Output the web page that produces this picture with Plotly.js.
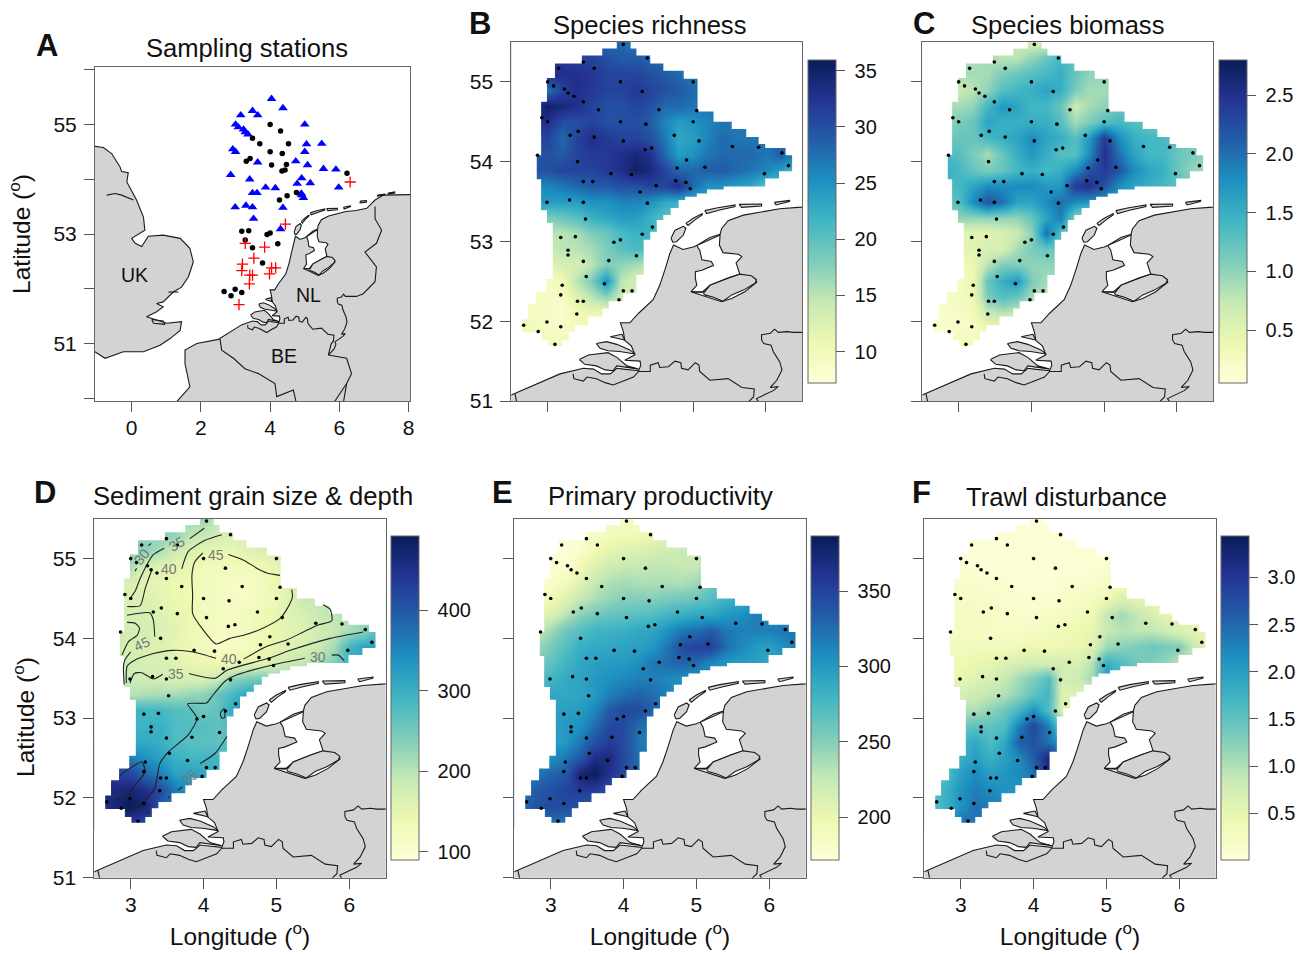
<!DOCTYPE html>
<html><head><meta charset="utf-8">
<script src="https://cdn.plot.ly/plotly-3.0.1.min.js"></script>
<style>html,body{margin:0;padding:0;background:#fff}#chart{width:1309px;height:954px}</style>
</head><body><div id="chart"></div>
<script>
const _ = null;
const lonCols = [2.6,2.8,3.0,3.2,3.4,3.6,3.8,4.0,4.2,4.4,4.6,4.8,5.0,5.2,5.4,5.6,5.8,6.0,6.2,6.4];
const latRows = [55.5,55.3,55.1,54.9,54.7,54.5,54.3,54.1,53.9,53.7,53.5,53.3,53.1,52.9,52.7,52.5,52.3,52.1,51.9,51.7];

const richness = [
[_,_,_,_,_,_,28,28,27],
[_,_,_,_,31,31,30,29,29,28],
[_,_,33,33,33,32,31,31,31,30,29,28,27],
[_,28,27,31,33,32,31,31,32,31,30,29,28],
[_,33,35,34,33,31,30,30,31,30,28,28,27,27],
[_,33,33,30,30,31,30,30,30,29,26,24,25,26,27,27],
[_,31,31,28,31,33,32,31,31,30,27,23,24,26,28,27,27,27],
[_,29,30,29,31,32,32,33,34,33,28,24,25,27,28,28,28,27,29,27],
[_,30,30,31,31,31,32,33,35,34,31,28,28,29,29,28,27,26,24,21],
[_,26,26,27,28,29,29,30,30,31,31,33,28,25,25,24,23,20,20],
[_,25,24,24,24,25,25,26,26,25,23,22,22],
[_,_,18,19,20,22,23,24,24,22,20,19],
[_,_,15,15,16,18,19,21,22,22,21],
[_,_,14,15,15,16,18,20,21,20],
[_,_,12,13,13,15,18,17,16,15],
[_,10,9,10,15,18,25,15,13,12],
[8,9,9,9,12,15,17,14,13],
[9,9,9,8,10,11,11,11],
[10,10,9,9,10,10],
[10,10,10,10,10]
];
const biomass = [
[_,_,_,_,_,_,0.7,0.6,0.6],
[_,_,_,_,0.9,0.8,0.8,1.0,1.2,1.4],
[_,_,0.9,0.9,0.9,1.1,1.2,1.3,1.4,1.5,1.2,1.0],
[_,0.7,0.7,0.8,1.0,1.3,1.4,1.5,1.6,1.5,1.1,0.9,0.9],
[_,0.9,0.9,1.0,1.4,1.7,1.6,1.4,1.4,1.2,0.7,0.9,1.0,1.2],
[_,1.0,1.1,1.2,1.6,1.5,1.5,1.5,1.5,1.3,0.9,1.1,1.3,1.4,1.3,1.2],
[_,1.2,1.2,1.2,1.4,1.5,1.6,1.8,1.6,1.5,1.3,1.7,2.4,1.8,1.5,1.4,1.4],
[_,1.4,1.3,1.1,0.9,1.2,1.5,1.7,1.5,1.3,1.3,1.8,2.5,2.0,1.6,1.4,1.4,1.2,1.1,1.0],
[_,1.5,1.4,1.2,1.1,1.2,1.4,1.5,1.4,1.5,1.8,2.2,2.4,2.2,1.8,1.6,1.5,1.2,1.0,0.9],
[_,1.4,1.4,1.6,1.8,1.8,1.8,1.8,1.7,1.7,2.4,2.5,2.2,1.8,1.6,1.5,1.4,1.3],
[_,1.3,1.3,1.8,2.2,2.0,1.6,1.6,1.8,2.0,1.8,1.7],
[_,0.9,1.0,1.0,1.0,1.0,1.0,1.2,1.6,1.9,1.0,0.9],
[_,_,0.5,0.5,0.5,0.6,0.7,1.0,2.0,1.3],
[_,_,0.5,0.5,0.6,0.6,0.9,1.1,1.2,1.2],
[_,_,0.3,0.4,0.8,1.1,1.1,1.0,1.0,1.0],
[_,0.2,0.2,0.4,1.2,1.5,1.7,1.1,0.9],
[0.2,0.2,0.3,0.4,1.1,1.3,1.2,0.9,0.8],
[0.15,0.2,0.2,0.3,0.7,0.8,0.7,0.6],
[0.1,0.15,0.2,0.2,0.4,0.4],
[0.2,0.2,0.3,0.3]
];
const grainSize = [
[_,_,_,_,_,_,210,220,190],
[_,_,_,_,230,230,200,190,175,165],
[_,_,240,230,210,180,165,150,145,145,160,165,170],
[_,210,210,170,160,150,145,130,125,125,125,135,150],
[_,170,165,150,150,140,135,125,120,115,115,125,140,170],
[_,170,165,165,150,140,135,125,120,115,115,125,140,165,190,190],
[_,175,170,170,160,150,140,125,120,120,125,135,145,160,170,190,195],
[_,175,175,175,165,155,140,125,120,115,125,135,145,155,165,180,190,210,230,280],
[_,180,170,165,160,150,135,125,115,115,120,135,150,160,170,190,215,290,320,320],
[_,200,175,170,170,160,145,140,135,140,150,155,175,190,195,215,240,300],
[_,190,185,180,175,165,170,170,185,230,245,250,230],
[_,_,200,210,215,215,225,230,260,290,320,330],
[_,_,300,290,285,275,270,255,265,310,330],
[_,_,290,295,300,280,275,275,265,290],
[_,_,305,310,300,280,270,270,265,270],
[_,380,360,340,320,300,290,290,290],
[440,430,420,380,360,320,320,310,300],
[470,460,470,450,410,370,330,320],
[450,470,490,470,400,360],
[450,440,440,420]
];
const productivity = [
[_,_,_,_,_,_,188,185,185],
[_,_,_,_,180,182,190,192,195,200],
[_,_,175,175,180,195,205,208,212,215,220,222,225],
[_,175,175,178,195,210,220,225,225,228,228,225,225],
[_,178,182,190,208,225,235,238,235,235,235,235,240,260],
[_,190,192,208,225,235,245,250,252,250,255,258,262,270,280,285],
[_,205,212,230,248,258,262,265,268,272,280,285,290,292,300,305,315],
[_,225,240,260,270,280,282,285,290,292,305,320,325,335,320,315,315,315,320,320],
[_,240,255,270,285,288,290,292,295,300,320,345,350,350,325,310,300,295,305,320],
[_,255,265,280,290,295,298,300,305,320,325,330,325,310,300,298,295,290],
[_,270,280,288,292,300,305,310,315,315,310,305,305],
[_,_,290,290,292,300,315,325,330,325,315],
[_,_,295,295,298,310,335,345,345,330],
[_,_,295,300,305,325,345,345,325,315],
[_,_,295,300,320,340,355,345,320,310],
[_,300,305,320,335,365,370,345,325],
[310,320,330,335,375,385,360,345,330],
[320,335,340,350,355,355,340,330],
[325,340,345,345,340,330],
[330,325,325,320]
];
const trawl = [
[_,_,_,_,_,_,0.05,0.05,0.05],
[_,_,_,_,0.05,0.05,0.05,0.05,0.05,0.05],
[_,_,0.05,0.05,0.05,0.05,0.05,0.05,0.05,0.05,0.05,0.05,0.05],
[_,0.05,0.05,0.05,0.05,0.05,0.05,0.05,0.05,0.05,0.05,0.05,0.1],
[_,0.15,0.15,0.15,0.1,0.1,0.05,0.05,0.05,0.1,0.1,0.15,0.2,0.35],
[_,0.2,0.2,0.2,0.2,0.1,0.1,0.1,0.1,0.15,0.2,0.3,0.4,0.65,0.55,0.5],
[_,0.2,0.25,0.25,0.2,0.15,0.15,0.15,0.2,0.25,0.3,0.4,0.85,1.1,0.9,0.7,0.5],
[_,0.2,0.25,0.25,0.2,0.2,0.2,0.25,0.3,0.35,0.4,0.5,0.85,0.95,0.9,0.9,0.8,0.65,0.55,0.4],
[_,0.25,0.3,0.3,0.3,0.3,0.35,0.4,0.4,0.4,0.45,0.6,1.1,1.2,1.3,1.4,1.35,1.3,0.8,0.5],
[_,0.35,0.4,0.45,0.5,0.6,0.7,0.75,0.7,0.75,0.65,1.0,1.8,1.6,1.4,1.3,1.2,0.9],
[_,0.45,0.5,0.6,0.7,0.85,1.1,1.3,1.6,0.7,0.8,1.1,2.1],
[_,_,0.7,0.8,0.9,1.0,1.2,1.5,1.7,0.6,0.6,0.6],
[_,_,1.0,1.0,1.2,1.4,1.7,2.1,1.6,0.6,0.6],
[_,_,1.4,1.5,1.5,1.6,2.3,2.8,2.3,1.3],
[_,_,1.7,1.9,1.6,1.9,2.6,2.7,2.4,2.0],
[_,1.7,1.8,2.0,1.8,2.0,2.2,2.6,3.2],
[1.4,1.6,2.0,2.2,2.0,2.1,2.2,2.4,3.2],
[1.6,1.8,2.1,2.3,2.2,2.1,2.1,2.2],
[1.5,1.8,2.1,2.4,2.3,2.2],
[1.5,2.0,2.4,2.4]
];

const triangleLon = [4.04,4.37,3.49,3.15,3.64,5.0,3.0,3.08,3.23,3.28,3.36,5.05,2.92,3.0,5.0,4.74,3.64,5.08,5.54,5.90,2.86,3.41,4.91,4.78,5.16,3.87,4.15,5.98,3.49,3.62,4.90,4.96,2.99,3.30,3.49,4.37,3.52,4.30];
const triangleLat = [55.47,55.30,55.25,55.17,55.17,55.0,55.0,54.95,54.91,54.86,54.82,54.64,54.55,54.50,54.50,54.33,54.31,54.26,54.19,54.18,54.08,54.0,54.02,53.92,53.93,53.85,53.84,53.85,53.75,53.75,53.74,53.66,53.49,53.52,53.49,53.48,53.28,53.09];
const circleLon = [4.0,4.30,3.49,3.70,4.53,4.0,4.35,3.42,3.31,4.04,4.43,4.34,6.22,4.76,4.49,4.27,3.18,3.38,3.91,4.0,3.28,3.49,4.22,3.78,2.67,2.99,2.87,3.18];
const circleLat = [55.0,54.88,54.75,54.65,54.65,54.50,54.47,54.38,54.33,54.26,54.17,54.15,54.11,53.76,53.70,53.62,53.05,53.06,52.99,53.02,52.89,52.75,52.82,52.47,51.95,51.99,51.87,51.93];
const plusLon = [6.31,4.44,3.28,3.84,3.53,3.20,3.18,4.04,4.16,3.98,3.49,3.41,3.40,3.10];
const plusLat = [53.95,53.18,52.83,52.76,52.56,52.45,52.33,52.38,52.38,52.27,52.25,52.25,52.09,51.71];
const extraTriangleLon = [5.49,4.91];
const extraTriangleLat = [54.65,53.71];
const extraCircleLon = [4.47];
const extraCircleLat = [54.27];

const landLon = [1.11,1.68,1.54,1.54,1.88,2.5,3.17,3.49,3.63,3.74,3.86,3.95,4.04,4.25,4.28,4.27,4.06,4.20,4.15,4.06,4.04,4.00,4.13,4.25,4.45,4.54,4.61,4.68,4.73,4.80,4.86,5.0,5.05,5.23,5.37,5.39,5.48,5.69,5.92,6.19,6.49,6.79,7.03,7.27,8.04,8.3,8.3,1.11,1.11,_,
 -1.3,-1.06,-0.82,-0.58,-0.34,-0.29,-0.10,-0.14,0.14,0.34,0.38,0,0.10,0.29,0.48,0.91,1.40,1.68,1.78,1.64,1.44,1.20,0.91,0.72,0.91,0.72,0.43,0.72,1.01,1.44,1.40,1.11,0.82,0.34,-0.24,-0.77,-1.06,-1.3,-1.3,_,
 3.435,3.56,3.83,3.95,4.09,4.25,3.95,3.90,3.79,3.67,3.51,3.435,_,
 3.67,3.81,3.95,4.13,4.20,3.99,3.83,3.72,3.67,_,
 3.86,4.02,4.06,3.95,3.86,_,
 4.695,4.75,4.865,4.90,4.865,4.77,4.72,4.695,_,
 4.90,5.0,5.13,5.12,5.025,4.93,4.90,_,
 5.16,5.32,5.575,5.575,5.35,5.185,5.16,_,
 5.63,5.94,5.94,5.667,5.63,_,
 6.116,6.33,6.32,6.14,6.116,_,
 6.60,6.78,6.78,6.60,6.60,_,
 7.10,7.31,7.31,7.10,7.10,_,
 7.41,7.60,7.60,7.41,7.41,_,
 0.58,0.91,0.96,0.63,0.58];
const landLat = [49.8,50.21,50.63,50.88,51.0,51.075,51.34,51.41,51.40,51.34,51.34,51.41,51.40,51.38,51.45,51.50,51.51,51.58,51.69,51.76,51.87,51.98,51.98,52.10,52.27,52.45,52.64,52.85,52.955,52.93,52.90,52.93,52.95,53.05,53.09,53.16,53.26,53.33,53.37,53.41,53.43,53.47,53.62,53.71,53.72,53.72,49.8,49.8,49.8,_,
 54.6,54.60,54.58,54.47,54.23,54.14,54.12,53.95,53.62,53.31,53.07,52.92,52.83,52.77,52.96,52.98,52.92,52.74,52.49,52.22,52.03,51.94,51.76,51.73,51.67,51.58,51.49,51.43,51.37,51.40,51.24,51.09,50.97,50.85,50.85,50.73,50.85,50.85,54.6,_,
 51.52,51.577,51.606,51.547,51.44,51.40,51.44,51.38,51.39,51.44,51.46,51.52,_,
 51.72,51.744,51.71,51.64,51.59,51.62,51.63,51.66,51.72,_,
 51.806,51.836,51.765,51.786,51.806,_,
 53.04,53.14,53.19,53.165,53.08,52.997,52.99,53.04,_,
 53.227,53.29,53.35,53.33,53.27,53.20,53.227,_,
 53.386,53.42,53.457,53.436,53.39,53.35,53.386,_,
 53.465,53.47,53.444,53.427,53.465,_,
 53.49,53.515,53.50,53.457,53.49,_,
 53.60,53.61,53.58,53.57,53.60,_,
 53.71,53.73,53.71,53.69,53.71,_,
 53.75,53.77,53.75,53.73,53.75,_,
 51.44,51.41,51.35,51.37,51.44];
const lakeLon = [5.05,5.37,5.36,5.41,5.62,5.67,5.59,5.64,5.48,5.23,5.12,4.97,5.05,5.03,5.03,5.12,5.28,5.25,5.12,5.09,5.05,_,
 4.97,5.14,5.39,5.53,5.71,5.875,5.85,5.5,5.14,4.97];
const lakeLat = [52.95,53.08,52.955,52.86,52.84,52.81,52.73,52.59,52.54,52.45,52.36,52.37,52.45,52.54,52.62,52.64,52.70,52.75,52.77,52.89,52.95,_,
 52.37,52.32,52.245,52.285,52.37,52.49,52.53,52.45,52.37,52.37];
const polderLon = [5.14,5.23,5.48,5.64,5.80,5.87,5.85,5.69,5.53,5.41,5.28,5.16,5.14];
const polderLat = [52.35,52.45,52.54,52.59,52.57,52.52,52.475,52.39,52.33,52.25,52.30,52.33,52.35];
const borderLon = [7.03,7.03,7.22,7.07,6.74,7.07,7.03,6.69,6.49,6.38,6.29,6.17,6.12,6.06,5.94,5.94,5.97,6.07,6.10,6.19,6.22,6.15,6.06,6.17,6.10,5.96,5.87,5.90,5.85,5.68,6.21,6.35,6.21,6.11,_,
 6.21,5.82,_,
 3.35,3.36,3.49,3.54,3.67,3.79,3.90,4.04,4.18,4.25,4.41,4.41,4.52,4.54,4.66,4.75,4.83,4.84,4.93,5.03,5.08,5.09,5.185,5.23,5.48,5.575,5.67,5.84,5.83,5.76,5.68,_,
 2.55,2.60,2.94,3.27,3.66,4.14,4.19,4.67,4.76,_,
 -0.72,-0.48,-0.29,0.05,_,
 1.06,1.35];
const borderLat = [53.50,53.28,53.07,52.83,52.67,52.40,52.13,51.91,51.86,51.86,51.87,51.86,51.90,51.85,51.83,51.765,51.72,51.70,51.62,51.49,51.39,51.26,51.17,51.18,51.13,51.07,51.03,50.99,50.9,50.79,50.73,50.45,50.27,49.9,_,
 50.27,49.9,_,
 51.34,51.28,51.25,51.30,51.28,51.23,51.20,51.255,51.30,51.37,51.37,51.45,51.48,51.42,51.43,51.50,51.48,51.41,51.39,51.48,51.45,51.37,51.30,51.26,51.28,51.22,51.17,51.15,51.05,50.99,50.79,_,
 51.09,50.88,50.73,50.54,50.45,50.27,50.03,50.15,49.9,_,
 53.71,53.74,53.71,53.62,_,
 51.94,51.94];

const outlineLon = [4.14,4.14,4.22,4.22,4.41,4.41,4.59,4.59,4.87,4.87,5.06,5.06,5.28,5.28,5.53,5.53,5.73,5.73,5.90,5.90,5.99,5.99,6.27,6.27,6.36,6.36,6.18,6.18,5.99,5.99,5.42,5.42,5.19,5.19,5.05,5.05,4.89,4.89,4.80,4.80,4.69,4.69,4.59,4.59,4.50,4.50,4.41,4.41,4.32,4.32,4.22,4.22,4.04,4.04,3.84,3.84,3.75,3.75,3.56,3.56,3.38,3.38,3.29,3.29,3.20,3.20,3.01,3.01,2.92,2.92,2.65,2.65,2.73,2.73,2.84,2.84,2.98,2.98,3.07,3.07,2.99,2.99,2.91,2.91,2.85,2.85,2.91,2.91,2.99,2.99,3.10,3.10,3.47,3.47,3.75,3.75,3.95,3.95,2.3,2.3,6.7,6.7,4.14];
const outlineLat = [55.7,55.42,55.42,55.33,55.33,55.23,55.23,55.14,55.14,55.04,55.04,54.63,54.63,54.50,54.50,54.41,54.41,54.31,54.31,54.22,54.22,54.17,54.17,54.08,54.08,53.88,53.88,53.79,53.79,53.69,53.69,53.65,53.65,53.60,53.60,53.56,53.56,53.52,53.52,53.42,53.42,53.33,53.33,53.27,53.27,53.12,53.12,53.02,53.02,52.58,52.58,52.35,52.35,52.25,52.25,52.16,52.16,52.06,52.06,51.95,51.95,51.87,51.87,51.76,51.76,51.69,51.69,51.76,51.76,51.86,51.86,52.03,52.03,52.22,52.22,52.37,52.37,52.53,52.53,53.23,53.23,53.39,53.39,53.78,53.78,54.08,54.08,54.75,54.75,55.05,55.05,55.23,55.23,55.33,55.33,55.42,55.42,55.7,55.7,50.8,50.8,55.7,55.7];

const contourLon = [4.34,4.55,4.73,4.87,5.05,_,5.21,5.22,5.14,5.05,4.82,4.55,4.36,4.17,4.0,3.85,3.85,3.84,3.88,3.99,_,
 3.70,3.79,4.02,4.25,_, 3.81,4.01,_, 3.24,3.28,_, 3.06,3.08,_,
 3.46,3.31,3.22,3.13,3.06,2.99,_,
 2.95,3.13,3.20,3.29,_,
 2.95,3.26,3.31,3.33,_,
 2.95,3.06,3.12,3.09,2.97,2.88,_,
 3.0,2.92,2.90,2.91,_,
 2.94,2.95,3.06,3.31,3.58,3.86,4.17,_,
 4.55,4.87,5.14,5.37,5.58,5.76,5.74,5.64,_,
 2.99,3.05,3.15,3.31,3.44,_,
 3.80,4.16,4.32,4.89,5.19,5.74,6.19,_,
 2.94,3.13,3.33,3.36,3.40,3.52,3.79,3.91,3.78,4.04,4.13,4.29,4.45,4.96,5.39,_,
 5.76,5.85,5.93,_,
 4.23,4.28,4.29,4.25,4.23,_,
 4.32,4.16,3.95,_, 3.71,3.65,_, 3.54,3.51,_, 3.26,3.22,_,
 2.85,3.15,3.20,3.04,2.97,2.78];
const contourLat = [55.05,54.98,54.88,54.82,54.79,_,54.61,54.52,54.36,54.25,54.13,54.04,54.0,53.93,54.10,54.31,54.54,54.79,54.96,55.07,_,
 54.87,55.09,55.23,55.30,_, 55.25,55.38,_, 55.16,55.19,_, 54.84,54.88,_,
 55.13,55.05,54.92,54.75,54.59,54.50,_,
 54.40,54.41,54.63,54.86,_,
 54.29,54.32,54.23,54.02,_,
 54.20,54.19,54.13,54.04,53.96,53.79,_,
 53.83,53.73,53.65,53.42,_,
 53.44,53.65,53.73,53.81,53.85,53.83,53.75,_,
 53.74,53.90,53.98,54.08,54.17,54.22,54.36,54.42,_,
 53.44,53.56,53.57,53.49,53.55,_,
 53.56,53.50,53.60,53.75,53.85,54.0,54.08,_,
 51.85,51.91,52.12,52.25,52.43,52.58,52.79,53.0,53.18,53.19,53.29,53.46,53.54,53.67,53.75,_,
 53.79,53.79,53.72,_,
 53.06,53.12,53.01,53.0,53.06,_,
 52.77,52.56,52.43,_, 52.14,52.10,_, 52.02,52.0,_, 51.83,51.80,_,
 52.28,52.45,52.33,52.14,52.04,51.97];
const contourLabels = ["30","35","40","45","45","40","35","30","25"];
const contourLabelLon = [3.15,3.63,3.52,4.17,3.15,4.35,3.62,5.57,3.82];
const contourLabelLat = [55.02,55.18,54.87,55.05,53.93,53.74,53.55,53.77,52.26];
const contourLabelAngle = [-50,-30,0,0,-25,0,0,0,-40];

const ylgnbu = [[0,"#FFFFD9"],[0.125,"#EDF8B1"],[0.25,"#C7E9B4"],[0.375,"#7FCDBB"],[0.5,"#41B6C4"],[0.625,"#1D91C0"],[0.75,"#225EA8"],[0.875,"#253494"],[1,"#081D58"]];
const FONT = "Liberation Sans, Arial, sans-serif";
const W = 1309, H = 954;
const frame = "#666666", tickCol = "#555555";
const latAsc = latRows.slice().reverse();
const stationsLon = triangleLon.concat(circleLon, plusLon);
const stationsLat = triangleLat.concat(circleLat, plusLat);

const panels = [
 {id:"", box:[95,410,67,401], xr:[-1.06,8.04], yr:[49.95,56.05], xt:[0,2,4,6,8], xl:true, yt:[51,53,55], minorY:[50,52,54,56], yl:true, yTitle:true},
 {id:"2", box:[511.3,802.3,42,401], z:richness, zr:[7.2,35.95], cb:[807.7,60,323], cbt:[10,15,20,25,30,35], yl:true, yt:[51,52,53,54,55]},
 {id:"3", box:[922.3,1213.3,42,401], z:biomass, zr:[0.05,2.8], cb:[1218.5,60,323], cbt:[0.5,1,1.5,2,2.5], cbx:["0.5","1.0","1.5","2.0","2.5"], yl:false, yt:[51,52,53,54,55]},
 {id:"4", box:[94.3,385.7,518.7,877.7], z:grainSize, zr:[90,492], cb:[391,536,324], cbt:[100,200,300,400], yl:true, xl:true, xTitle:true, yt:[51,52,53,54,55], contours:true},
 {id:"5", box:[514.3,805.7,518.7,877.7], z:productivity, zr:[171.7,386.5], cb:[811,536,324], cbt:[200,250,300,350], yl:false, xl:true, xTitle:true, yt:[51,52,53,54,55]},
 {id:"6", box:[924.3,1215.7,518.7,877.7], z:trawl, zr:[0.004,3.44], cb:[1221,536,324], cbt:[0.5,1,1.5,2,2.5,3], cbx:["0.5","1.0","1.5","2.0","2.5","3.0"], yl:false, xl:true, xTitle:true, yt:[51,52,53,54,55]}
];

const traces = [], layout = {
 width:W, height:H, margin:{l:0,r:0,t:0,b:0,autoexpand:false}, paper_bgcolor:"#fff", plot_bgcolor:"#fff",
 showlegend:false, font:{family:FONT,color:"#111"}, annotations:[], hovermode:false
};
function note(text,x,y,size,extra){
 layout.annotations.push(Object.assign({text:text,x:x/W,y:1-y/H,xref:"paper",yref:"paper",showarrow:false,xanchor:"center",yanchor:"middle",font:{size:size,family:FONT,color:"#111"}},extra||{}));
}
panels.forEach(p=>{
 const xa="x"+p.id, ya="y"+p.id, xk="xaxis"+p.id, yk="yaxis"+p.id;
 const common={showline:true,mirror:true,linecolor:frame,linewidth:1,ticks:"outside",ticklen:10,tickwidth:1,tickcolor:tickCol,showgrid:false,zeroline:false,tickmode:"array",tickfont:{size:21,family:FONT,color:"#111"}};
 const xt=p.xt||[3,4,5,6];
 layout[xk]=Object.assign({},common,{domain:[p.box[0]/W,p.box[1]/W],range:p.xr||[2.5,6.5],anchor:ya,tickvals:xt,showticklabels:!!p.xl,ticktext:xt.map(String),ticklabelstandoff:-2});
 layout[yk]=Object.assign({},common,{domain:[1-p.box[3]/H,1-p.box[2]/H],range:p.yr||[51,55.5],anchor:xa,tickvals:p.yt,showticklabels:!!p.yl,ticktext:p.yt.map(String),ticklabelstandoff:3});
 if(p.minorY) layout[yk].minor={tickmode:"array",tickvals:p.minorY,ticks:"outside",ticklen:10,tickwidth:1,tickcolor:tickCol,showgrid:false};
 if(p.xTitle) layout[xk].title={text:"Longitude (<sup>o</sup>)",font:{size:24.5,family:FONT,color:"#111"},standoff:12};
 if(p.yTitle) layout[yk].title={text:"Latitude (<sup>o</sup>)",font:{size:24.5,family:FONT,color:"#111"},standoff:15};
 if(p.z){
  const cb={thickness:27.6,thicknessmode:"pixels",len:p.cb[2],lenmode:"pixels",x:p.cb[0]/W,xref:"paper",xanchor:"left",xpad:0,y:1-p.cb[1]/H,yref:"paper",yanchor:"top",ypad:0,
   outlinecolor:frame,outlinewidth:1,borderwidth:0,ticks:"outside",ticklen:9,tickwidth:1,tickcolor:tickCol,tickmode:"array",tickvals:p.cbt,tickfont:{size:20,family:FONT,color:"#111"},
   ticktext:(p.cbx||p.cbt.map(String)).map(s=>"\u00A0"+s)};
  traces.push({type:"heatmap",x:lonCols,y:latAsc,z:p.z.slice().reverse(),xaxis:xa,yaxis:ya,colorscale:ylgnbu,zmin:p.zr[0],zmax:p.zr[1],zsmooth:"best",connectgaps:true,colorbar:cb,hoverinfo:"skip"});
  traces.push({type:"scatter",mode:"lines",x:outlineLon,y:outlineLat,xaxis:xa,yaxis:ya,fill:"toself",fillcolor:"#fff",line:{width:0,color:"#fff",simplify:false},hoverinfo:"skip"});
 }
 const ln={color:"#1a1a1a",width:1.1};
 traces.push({type:"scatter",mode:"lines",x:landLon,y:landLat,xaxis:xa,yaxis:ya,fill:"toself",fillcolor:"#D3D3D3",line:ln,hoverinfo:"skip"});
 traces.push({type:"scatter",mode:"lines",x:lakeLon,y:lakeLat,xaxis:xa,yaxis:ya,fill:"toself",fillcolor:"#fff",line:ln,hoverinfo:"skip"});
 traces.push({type:"scatter",mode:"lines",x:polderLon,y:polderLat,xaxis:xa,yaxis:ya,fill:"toself",fillcolor:"#D3D3D3",line:ln,hoverinfo:"skip"});
 traces.push({type:"scatter",mode:"lines",x:borderLon,y:borderLat,xaxis:xa,yaxis:ya,line:ln,connectgaps:false,hoverinfo:"skip"});
 if(p.contours){
  traces.push({type:"scatter",mode:"lines",x:contourLon,y:contourLat,xaxis:xa,yaxis:ya,line:{color:"#222",width:1.1,shape:"spline",smoothing:0.6},connectgaps:false,hoverinfo:"skip"});
  contourLabels.forEach((t,i)=>layout.annotations.push({text:t,x:contourLabelLon[i],y:contourLabelLat[i],xref:xa,yref:ya,showarrow:false,textangle:contourLabelAngle[i],font:{size:14,family:FONT,color:"#777"}}));
 }
 if(p.id===""){
  traces.push({type:"scatter",mode:"markers",x:triangleLon.concat(extraTriangleLon),y:triangleLat.concat(extraTriangleLat),xaxis:xa,yaxis:ya,marker:{symbol:"triangle-up",size:8.5,color:"#0000FF"},hoverinfo:"skip"});
  traces.push({type:"scatter",mode:"markers",x:circleLon.concat(extraCircleLon),y:circleLat.concat(extraCircleLat),xaxis:xa,yaxis:ya,marker:{symbol:"circle",size:5.5,color:"#000"},hoverinfo:"skip"});
  traces.push({type:"scatter",mode:"markers",x:plusLon,y:plusLat,xaxis:xa,yaxis:ya,marker:{symbol:"cross-thin",size:8,line:{color:"#FF0000",width:1.3}},hoverinfo:"skip"});
 } else {
  traces.push({type:"scatter",mode:"markers",x:stationsLon,y:stationsLat,xaxis:xa,yaxis:ya,marker:{symbol:"circle",size:3.6,color:"#000"},hoverinfo:"skip"});
 }
});
[["A",47,46],["B",480,23],["C",924,23],["D",45,493],["E",502,493],["F",921,493]].forEach(a=>note(a[0],a[1],a[2],31,{font:{size:31,family:FONT,color:"#111",weight:700}}));
[["Sampling stations",247,48],["Species richness",649,25],["Species biomass",1067,25],["Sediment grain size &amp; depth",253,496],["Primary productivity",660,496],["Trawl disturbance",1066,497]].forEach(a=>note(a[0],a[1],a[2],25.6));
note("Latitude (<sup>o</sup>)",23,717,24.5,{textangle:-90});
[["UK",0.08,52.25],["NL",5.12,51.88],["BE",4.41,50.77]].forEach(a=>layout.annotations.push({text:a[0],x:a[1],y:a[2],xref:"x",yref:"y",showarrow:false,font:{size:19.5,family:FONT,color:"#111"}}));
Plotly.newPlot("chart",traces,layout,{displayModeBar:false,staticPlot:true});
</script></body></html>
